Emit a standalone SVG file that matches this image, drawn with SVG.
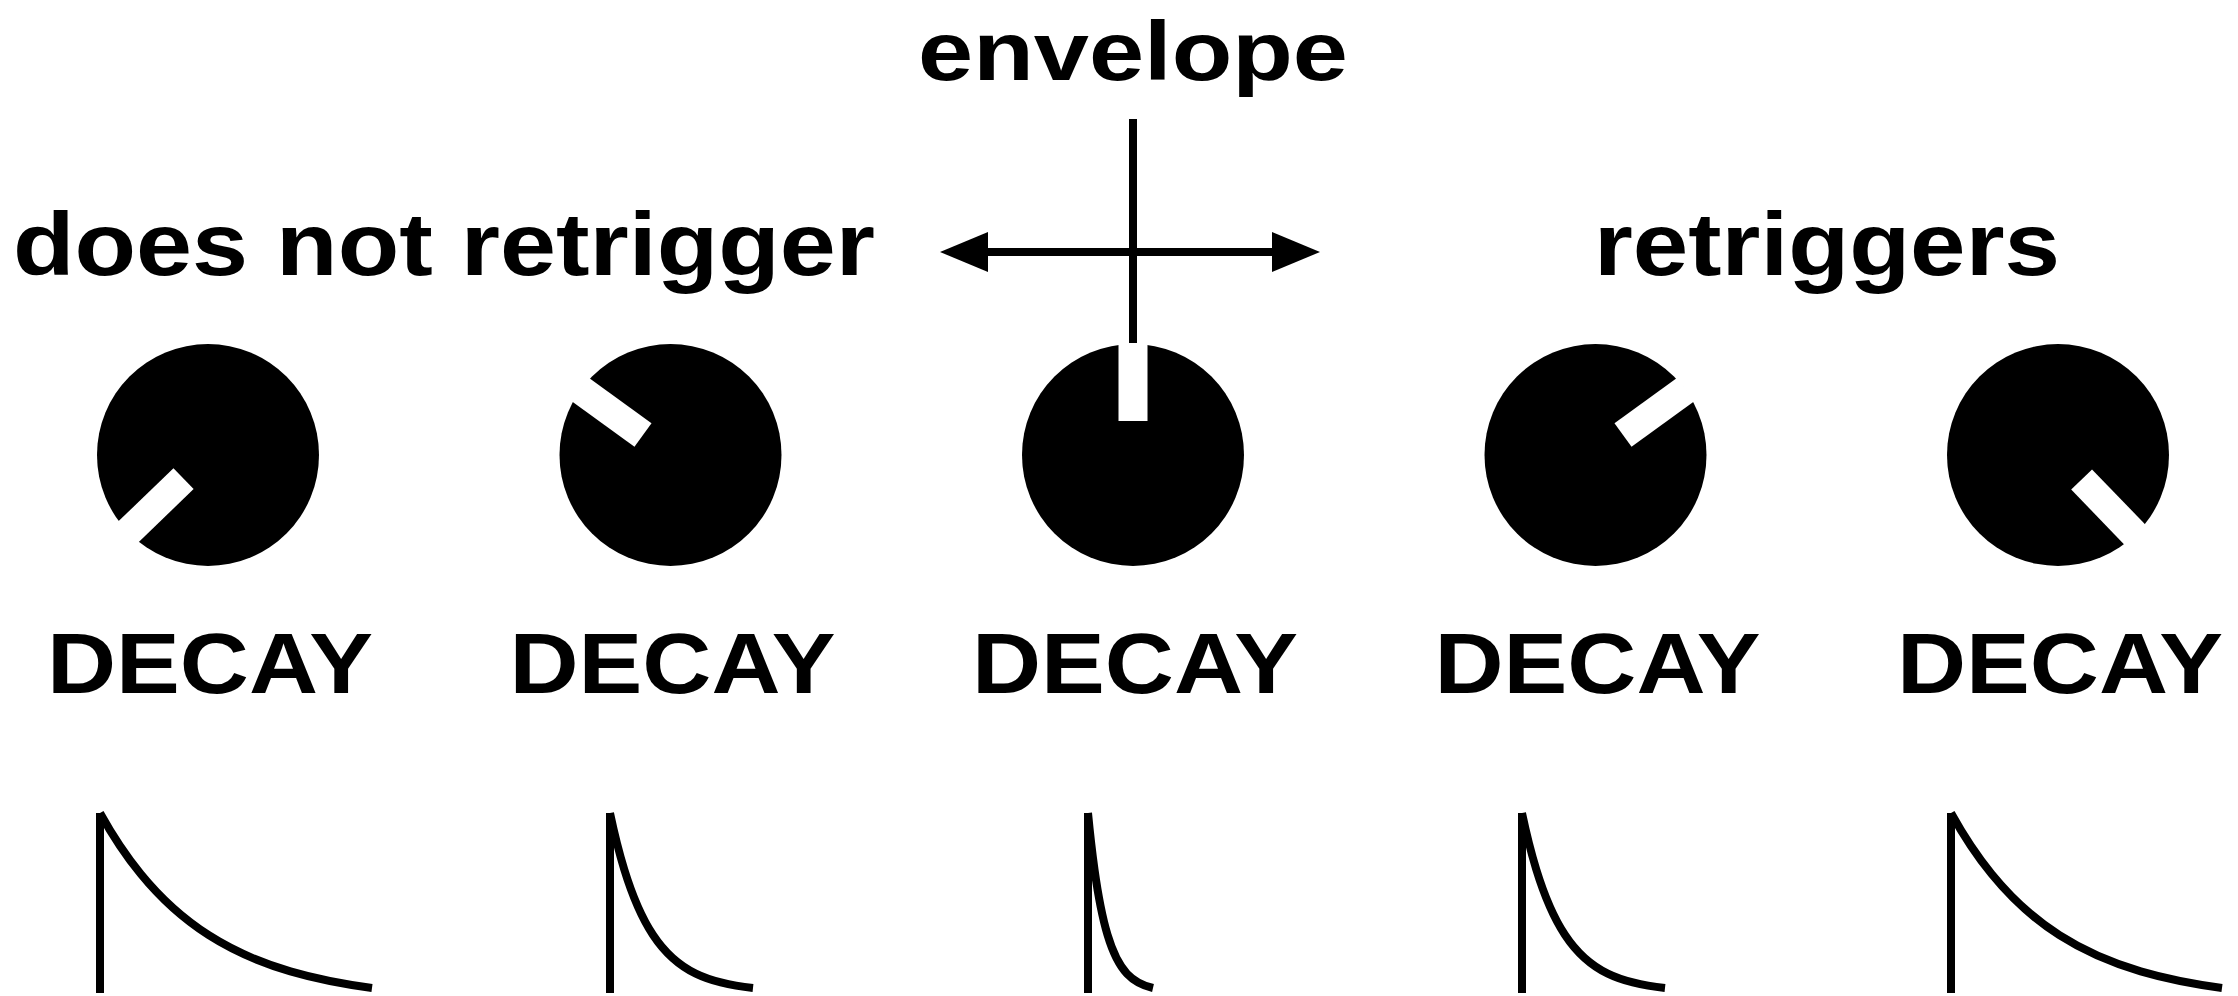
<svg xmlns="http://www.w3.org/2000/svg" xmlns:xlink="http://www.w3.org/1999/xlink" width="2238" height="996" viewBox="0 0 2238 996">
  <style>
    .label { font-family: "Liberation Sans", Arial, sans-serif; font-weight: bold; fill: #000; }
    .title { font-size: 84px; }
    .side { font-size: 89px; }
    .decay { font-size: 86px; }
    .knob { fill: #000; }
    .notch { fill: #fff; }
    .axis { stroke: #000; stroke-width: 8; fill: none; stroke-linecap: butt; }
    .env { stroke: #000; stroke-width: 8; fill: none; stroke-linecap: butt; stroke-linejoin: round; vector-effect: non-scaling-stroke; }
  </style>
  <defs>
    <marker id="head" viewBox="0 0 48 40" refX="28" refY="20" markerWidth="48" markerHeight="40" markerUnits="userSpaceOnUse" orient="auto-start-reverse">
      <path d="M0,0 L48,20 L0,40 Z" fill="#000"/>
    </marker>
    <!-- normalised exponential decay curves in a 1000 x 1000 box -->
    <path id="decay-slow" class="env" d="M0,0 C50,140.4 100,253.7 150,348.8 C233.3,507.3 316.7,615.7 400,698.4 C500,797.7 600,859.7 700,905.2 C800,950.7 900,979.1 1000,1000"/>
    <path id="decay-fast" class="env" d="M0,0 C33.3,129.6 66.7,234.7 100,323.3 C166.7,500.5 233.3,612.9 300,695.8 C400,820.1 500,878.4 600,918.2 C733.3,971.2 866.7,988.4 1000,1000"/>
  </defs>

  <rect width="2238" height="996" fill="#fff"/>

  <!-- headings -->
  <g id="heading-envelope">
    <text class="label title" x="1133" y="80" text-anchor="middle" textLength="430" lengthAdjust="spacingAndGlyphs">envelope</text>
  </g>
  <g id="heading-no-retrigger">
    <text class="label side" x="444" y="275" text-anchor="middle" textLength="862" lengthAdjust="spacingAndGlyphs">does not retrigger</text>
  </g>
  <g id="heading-retrigger">
    <text class="label side" x="1827" y="275" text-anchor="middle" textLength="466" lengthAdjust="spacingAndGlyphs">retriggers</text>
  </g>

  <!-- knobs: black disc with a white pointer slot -->
  <g id="knob-1" transform="translate(208,455)">
    <circle class="knob" r="111"/>
    <rect class="notch" x="-14.5" y="-112" width="29" height="78" transform="rotate(-134)"/>
  </g>
  <g id="knob-2" transform="translate(670.5,455)">
    <circle class="knob" r="111"/>
    <rect class="notch" x="-14.5" y="-112" width="29" height="78" transform="rotate(-54)"/>
  </g>
  <g id="knob-3" transform="translate(1133,455)">
    <circle class="knob" r="111"/>
    <rect class="notch" x="-14.5" y="-112" width="29" height="78"/>
  </g>
  <g id="knob-4" transform="translate(1595.5,455)">
    <circle class="knob" r="111"/>
    <rect class="notch" x="-14.5" y="-112" width="29" height="78" transform="rotate(54)"/>
  </g>
  <g id="knob-5" transform="translate(2058,455)">
    <circle class="knob" r="111"/>
    <rect class="notch" x="-14.5" y="-112" width="29" height="78" transform="rotate(136)"/>
  </g>

  <!-- knob captions -->
  <g id="caption-1"><text class="label decay" x="210" y="693" text-anchor="middle" textLength="326" lengthAdjust="spacingAndGlyphs">DECAY</text></g>
  <g id="caption-2"><text class="label decay" x="672.5" y="693" text-anchor="middle" textLength="326" lengthAdjust="spacingAndGlyphs">DECAY</text></g>
  <g id="caption-3"><text class="label decay" x="1135" y="693" text-anchor="middle" textLength="326" lengthAdjust="spacingAndGlyphs">DECAY</text></g>
  <g id="caption-4"><text class="label decay" x="1597.5" y="693" text-anchor="middle" textLength="326" lengthAdjust="spacingAndGlyphs">DECAY</text></g>
  <g id="caption-5"><text class="label decay" x="2060" y="693" text-anchor="middle" textLength="326" lengthAdjust="spacingAndGlyphs">DECAY</text></g>

  <!-- envelope shapes: attack edge plus decay tail -->
  <g id="env-1">
    <line class="axis" x1="100" y1="813" x2="100" y2="993"/>
    <use xlink:href="#decay-slow" transform="translate(100,813) scale(0.272,0.175)"/>
  </g>
  <g id="env-2">
    <line class="axis" x1="610" y1="813" x2="610" y2="993"/>
    <use xlink:href="#decay-fast" transform="translate(610,813) scale(0.143,0.175)"/>
  </g>
  <g id="env-3">
    <line class="axis" x1="1088" y1="813" x2="1088" y2="993"/>
    <use xlink:href="#decay-fast" transform="translate(1088,813) scale(0.065,0.175)"/>
  </g>
  <g id="env-4">
    <line class="axis" x1="1522" y1="813" x2="1522" y2="993"/>
    <use xlink:href="#decay-fast" transform="translate(1522,813) scale(0.143,0.175)"/>
  </g>
  <g id="env-5">
    <line class="axis" x1="1951" y1="813" x2="1951" y2="993"/>
    <use xlink:href="#decay-slow" transform="translate(1951,813) scale(0.271,0.175)"/>
  </g>

  <!-- connectors: envelope axis and the two-way arrow -->
  <g id="connectors">
    <line class="axis" x1="1133" y1="119" x2="1133" y2="343"/>
    <line class="axis" x1="960" y1="252" x2="1300" y2="252" marker-start="url(#head)" marker-end="url(#head)"/>
  </g>
</svg>
